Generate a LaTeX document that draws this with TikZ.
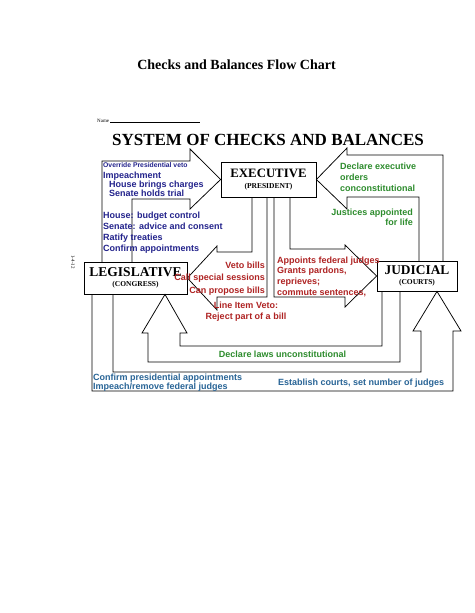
\documentclass[tikz,border=0pt]{standalone}
\usepackage{fontspec}
\setmainfont{Liberation Serif}
\setsansfont{Liberation Sans}
\definecolor{navy}{RGB}{35,35,140}
\definecolor{vetored}{RGB}{175,35,35}
\definecolor{courtgreen}{RGB}{45,140,45}
\definecolor{steel}{RGB}{40,100,150}

\begin{document}
\begin{tikzpicture}[x=1pt,y=-1pt,
  branchbox/.style={draw,line width=0.8pt,fill=white,inner sep=0pt,align=center,font=\bfseries\fontsize{7.5}{#1}\selectfont},
  branchbox/.default=10,
  blockarrow/.style={line width=0.75pt,line join=miter},
  checktext/.style={inner sep=0pt,font=\sffamily\bfseries\fontsize{9}{#1}\selectfont},
  checktext/.default=11]

% Page
\fill[white,use as bounding box] (0,0) rectangle (474,613);

% Headings
\node[font=\bfseries\fontsize{14}{16}\selectfont,anchor=base] (pagetitle) at (236.5,69) {Checks and Balances Flow Chart};
\node[font=\fontsize{5}{6}\selectfont,anchor=base west,inner sep=0pt] (name) at (97,122) {Name \rule{90pt}{0.4pt}};
\node[font=\bfseries\fontsize{17}{20}\selectfont,anchor=base] (systitle) at (268,145) {SYSTEM OF CHECKS AND BALANCES};
\node[font=\fontsize{5}{6}\selectfont,rotate=-90,inner sep=0pt] (date) at (73,262) {1-4-12};

% Branches
\node[branchbox=10.3,minimum width=95pt,minimum height=35pt] (exec) at (268.5,179.5)
  {{\fontsize{12.8}{13}\selectfont EXECUTIVE}\\(PRESIDENT)};
\node[branchbox=10,minimum width=103pt,minimum height=32pt] (leg) at (135.5,278)
  {{\fontsize{13.5}{14}\selectfont LEGISLATIVE}\\(CONGRESS)};
\node[branchbox=9.5,minimum width=80pt,minimum height=30pt] (jud) at (417,276)
  {{\fontsize{13.4}{14}\selectfont JUDICIAL}\\(COURTS)};

% Legislative -> Executive
\draw[blockarrow] (102,262) -- (102,161) -- (190,161) -- (190,149) -- (exec.west)
  -- (190,209) -- (190,199) -- (132,199) -- (132,262);

% Executive -> Legislative
\draw[blockarrow] (252,197) -- (252,252) -- (217,252) -- (217,246) -- (leg.east)
  -- (217,310) -- (217,297) -- (267,297) -- (267,197);

% Executive -> Judicial
\draw[blockarrow] (290,197) -- (290,249) -- (345,249) -- (345,245) -- (jud.west)
  -- (345,307) -- (345,297) -- (274,297) -- (274,197);

% Judicial -> Executive
\draw[blockarrow] (443,261) -- (443,155) -- (347,155) -- (347,148) -- (exec.east)
  -- (347,209) -- (347,197) -- (419,197) -- (419,261);

% Judicial -> Legislative
\draw[blockarrow] (382,291) -- (382,346) -- (180,346) -- (180,333) -- (187,333)
  -- ([xshift=29.5pt]leg.south) -- (142,333) -- (148,333) -- (148,362) -- (400,362) -- (400,291);

% Legislative -> Judicial
\draw[blockarrow] (113,294) -- (113,372) -- (421,372) -- (421,331) -- (413,331)
  -- ([xshift=20pt]jud.south) -- (461,331) -- (453,331) -- (453,391) -- (92,391) -- (92,294);

% Checks by Congress
\node[inner sep=0pt,anchor=base west,text=navy,font=\sffamily\bfseries\fontsize{6.8}{8}\selectfont] (override) at (103,167.5) {Override Presidential veto};
\node[checktext=9.3,anchor=north west,align=left,text=navy] (impeach) at (103,171.5)
  {Impeachment\\\hspace*{6pt}House brings charges\\\hspace*{6pt}Senate holds trial};
\node[checktext=11,anchor=north west,align=left,text=navy] (senate) at (103,212)
  {House: budget control\\Senate: advice and consent\\Ratify treaties\\Confirm appointments};

% Checks by the President
\node[checktext=12.5,anchor=north east,align=right,text=vetored] (veto) at (265,261.5)
  {Veto bills\\Call special sessions\\Can propose bills};
\node[checktext=11,anchor=north,align=center,text=vetored] (lineitem) at (246,302)
  {Line Item Veto:\\Reject part of a bill};
\node[checktext=10.7,anchor=north west,align=left,text=vetored] (pardons) at (277,256.5)
  {Appoints federal judges\\Grants pardons,\\reprieves;\\commute sentences,};

% Checks by the courts
\node[checktext=11,anchor=north west,align=left,text=courtgreen] (orders) at (340,162.5)
  {Declare executive\\orders\\conconstitutional};
\node[checktext=10.5,anchor=north east,align=right,text=courtgreen] (forlife) at (413,208.5)
  {Justices appointed\\for life};
\node[checktext,anchor=base,text=courtgreen] (laws) at (282.5,357) {Declare laws unconstitutional};

% Congress and the courts
\node[checktext=9,anchor=north west,align=left,text=steel] (confirm) at (93,373.5)
  {Confirm presidential appointments\\Impeach/remove federal judges};
\node[checktext,anchor=base west,text=steel] (courts) at (278,385) {Establish courts, set number of judges};

\end{tikzpicture}
\end{document}
